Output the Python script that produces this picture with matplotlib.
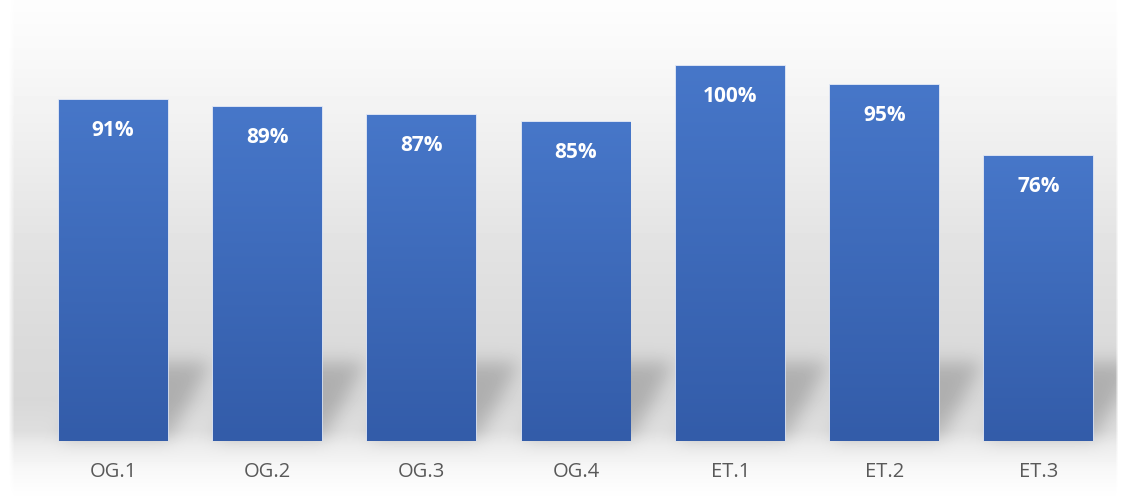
import numpy as np
import matplotlib
matplotlib.use('Agg')
import matplotlib.pyplot as plt
from matplotlib.colors import LinearSegmentedColormap

# ── Data ──────────────────────────────────────────────────────────────────────
categories = ['OG.1', 'OG.2', 'OG.3', 'OG.4', 'ET.1', 'ET.2', 'ET.3']
values = [91, 89, 87, 85, 100, 95, 76]

# ── Style ─────────────────────────────────────────────────────────────────────
BAR_TOP = '#4777c9'
BAR_BTM = '#335ca9'
BAR_EDGE = '#d4def2'
TICK_FG = '#595959'
plt.rcParams['font.family'] = ['Open Sans', 'DejaVu Sans']

W, H, DPI = 1132, 500, 100
fig = plt.figure(figsize=(W / DPI, H / DPI), dpi=DPI, facecolor='white')
bg = fig.add_axes([0, 0, 1, 1], zorder=0)
ax = fig.add_axes([36 / W, 59 / H, 1080 / W, 431 / H], zorder=1)
ax.patch.set_alpha(0)

x = np.arange(len(categories))
bars = ax.bar(x, values, width=0.705, color=BAR_TOP, edgecolor=BAR_EDGE,
              linewidth=1.2, zorder=2)
ax.set_xlim(-0.5, len(categories) - 0.5)
ax.set_ylim(0, 115)

# ── Background: soft grey band plus skewed shadows behind the bars ───────────
rows = np.arange(H)                 # display y, bottom = 0
from_top = H - 1 - rows
prof = np.interp(from_top,
                 [0, 60, 150, 250, 350, 400, 430, 445, 470, 490, 500],
                 [253, 248, 238, 226, 218, 216, 222, 236, 248, 253, 255])
img = np.tile(prof[:, None], (1, W)).astype(float)
xx = np.arange(W)[None, :]
yy = rows[:, None]

mask = np.zeros((H, W))
for b in bars:
    (x0, yb), (x1, _) = ax.transData.transform(
        [(b.get_x(), 0), (b.get_x() + b.get_width(), 0)])
    k = (yy - yb) * 0.55
    sel = (xx >= x0 + k) & (xx <= x1 + k) & (yy >= yb + 2) & (yy <= yb + 78)
    mask[sel] = 1.0

kern = np.exp(-0.5 * (np.arange(-24, 25) / 9.0) ** 2)
kern /= kern.sum()
mask = np.apply_along_axis(lambda r: np.convolve(r, kern, mode='same'), 1, mask)
mask = np.apply_along_axis(lambda c: np.convolve(c, kern, mode='same'), 0, mask)
img -= 42 * mask

edge = np.clip((xx - 8) / 6, 0, 1) * np.clip((1118 - xx) / 3, 0, 1)
img = 255 - (255 - img) * edge

bg.imshow(img, origin='lower', extent=[0, W, 0, H], cmap='gray',
          vmin=0, vmax=255, aspect='auto', interpolation='bilinear')
bg.set_xlim(0, W)
bg.set_ylim(0, H)
bg.axis('off')

# ── Gradient fill clipped to each bar ────────────────────────────────────────
cmap = LinearSegmentedColormap.from_list('bar', [BAR_BTM, BAR_TOP])
grad = np.linspace(0, 1, 256)[:, None]
for b in bars:
    im = ax.imshow(grad, extent=[b.get_x(), b.get_x() + b.get_width(),
                                 0, b.get_height()],
                   origin='lower', cmap=cmap, aspect='auto', zorder=3)
    im.set_clip_path(b)

for b, v in zip(bars, values):
    ax.annotate(f'{v}%', xy=(b.get_x() + b.get_width() / 2, v),
                xytext=(0, -22), textcoords='offset points',
                ha='center', va='center', color='white',
                fontsize=15, fontweight='bold', zorder=4)

ax.set_xlim(-0.5, len(categories) - 0.5)
ax.set_ylim(0, 115)
ax.set_xticks(x, categories)
ax.set_yticks([])
ax.tick_params(axis='x', length=0, pad=15, labelsize=14.5, labelcolor=TICK_FG)
for s in ax.spines.values():
    s.set_visible(False)

fig.savefig('out.png', dpi=DPI, facecolor='white')
